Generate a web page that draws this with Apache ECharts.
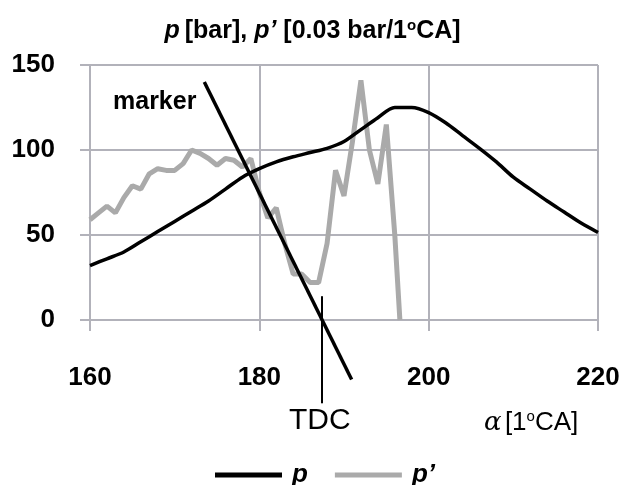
<!DOCTYPE html>
<html>
<head>
<meta charset="utf-8">
<script src="https://cdn.jsdelivr.net/npm/echarts@6/dist/echarts.min.js"></script>
<style>html,body{margin:0;padding:0;background:#fff;}#c{width:625px;height:485px;}</style>
</head>
<body>
<div id="c"></div>
<script>
// Crank angle ticks
const xTicks = [160, 180, 200, 220];
const yTicks = [0, 50, 100, 150];

// p [bar]
const pAngle = [160,162,164,166,168,170,172,174,176,178,180,182,184,186,188,190,192,194,196,198,200,202,204,206,208,210,212,214,216,218,220];
const pValues = [32,36,40,46,52,58,64,70,77,84,89,93,96,98.5,101,105,112,119,125,125,122,116,108.5,101,93,84,77,70,63.5,57,51.5];

// p' [0.03 bar/1°CA]
const dpAngle = [160,161,162,163,164,165,166,167,168,169,170,171,172,173,174,175,176,177,178,179,180,181,182,183,184,185,186,187,188,189,190,191,192,193,194,195,196,196.6];
const dpValues = [59,63,67,63,72,79,77,86,89,88,88,92,100,98,95,91,95,94,90,95,75,60,66,45,27,27,22,22,45,88,73,105,141,100,80,115,50,0];

// marker line and TDC line (in chart coordinates)
const markerAngle = [173.5, 190.9];
const markerValues = [140, -35];
const tdcAngle = [187.4, 187.4];
const tdcValues = [14, -49];

const zip = (a, b) => a.map((v, i) => [v, b[i]]);
const gridColor = '#b2b2ba';
const FONT = 'Liberation Sans';

const chart = echarts.init(document.getElementById('c'), null, {renderer: 'canvas'});
chart.setOption({
  animation: false,
  backgroundColor: '#fff',
  title: {
    text: '{i|p} {b|[bar], }{i|p’}{b| [0.03 bar/1}{sup|o}{b|CA]}',
    left: 'center',
    top: 13,
    textStyle: {
      rich: {
        i: {fontFamily: FONT, fontSize: 25, fontWeight: 'bold', fontStyle: 'italic', color: '#000', lineHeight: 26},
        b: {fontFamily: FONT, fontSize: 25, fontWeight: 'bold', color: '#000', lineHeight: 26},
        sup: {fontFamily: FONT, fontSize: 15, fontWeight: 'bold', color: '#000', verticalAlign: 'top', lineHeight: 26}
      }
    }
  },
  legend: {
    left: 215,
    top: 462,
    padding: 0,
    icon: 'rect',
    itemWidth: 67,
    itemHeight: 5,
    itemGap: 27,
    textStyle: {fontFamily: FONT, fontSize: 26, fontWeight: 'bold', fontStyle: 'italic', color: '#000', padding: [0, 0, 0, 5]},
    data: ['p', 'p’']
  },
  grid: {left: 90, right: 27, top: 65, bottom: 165, containLabel: false},
  xAxis: {
    type: 'value',
    min: 160, max: 220, interval: 20,
    axisLine: {show: true, lineStyle: {color: gridColor, width: 2}},
    axisTick: {show: true, length: 11, lineStyle: {color: gridColor, width: 2}},
    axisLabel: {margin: 45, fontFamily: FONT, fontSize: 26, fontWeight: 'bold', color: '#000',
      formatter: v => xTicks.includes(v) ? String(v) : ''},
    splitLine: {show: true, lineStyle: {color: gridColor, width: 2}}
  },
  yAxis: {
    type: 'value',
    min: 0, max: 150, interval: 50,
    axisLine: {show: true, lineStyle: {color: gridColor, width: 2}},
    axisTick: {show: true, length: 10, lineStyle: {color: gridColor, width: 2}},
    axisLabel: {margin: 35, fontFamily: FONT, fontSize: 26, fontWeight: 'bold', color: '#000',
      formatter: v => yTicks.includes(v) ? String(v) : ''},
    splitLine: {show: true, lineStyle: {color: gridColor, width: 2}}
  },
  series: [
    {
      name: 'p’', type: 'line', data: zip(dpAngle, dpValues), showSymbol: false, symbol: 'none',
      lineStyle: {color: '#aaaaaa', width: 5}, itemStyle: {color: '#aaaaaa'}, z: 2
    },
    {
      name: 'p', type: 'line', data: zip(pAngle, pValues), showSymbol: false, symbol: 'none', smooth: 0.3,
      lineStyle: {color: '#000', width: 3.5}, itemStyle: {color: '#000'}, z: 3
    },
    {
      name: 'marker', type: 'line', data: zip(markerAngle, markerValues), showSymbol: false, symbol: 'none', clip: false,
      lineStyle: {color: '#000', width: 3.5}, z: 4, silent: true
    },
    {
      name: 'TDC', type: 'line', data: zip(tdcAngle, tdcValues), showSymbol: false, symbol: 'none', clip: false,
      lineStyle: {color: '#000', width: 2}, z: 4, silent: true
    }
  ],
  graphic: [
    {type: 'text', left: 113, top: 90, style: {text: 'marker', font: 'bold 25px "Liberation Sans"', fill: '#000'}},
    {type: 'text', left: 289, top: 406, style: {text: 'TDC', font: '30px "Liberation Sans"', fill: '#000'}},
    {type: 'text', left: 484, top: 409, style: {
      text: '{a|α} {n|[1}{s|o}{n|CA]}',
      rich: {
        a: {fontFamily: 'DejaVu Serif', fontSize: 26, fontStyle: 'italic', fill: '#000', lineHeight: 28},
        n: {fontFamily: FONT, fontSize: 26, fill: '#000', lineHeight: 28},
        s: {fontFamily: FONT, fontSize: 15, fill: '#000', verticalAlign: 'top', lineHeight: 28}
      }
    }}
  ]
});
</script>
</body>
</html>
